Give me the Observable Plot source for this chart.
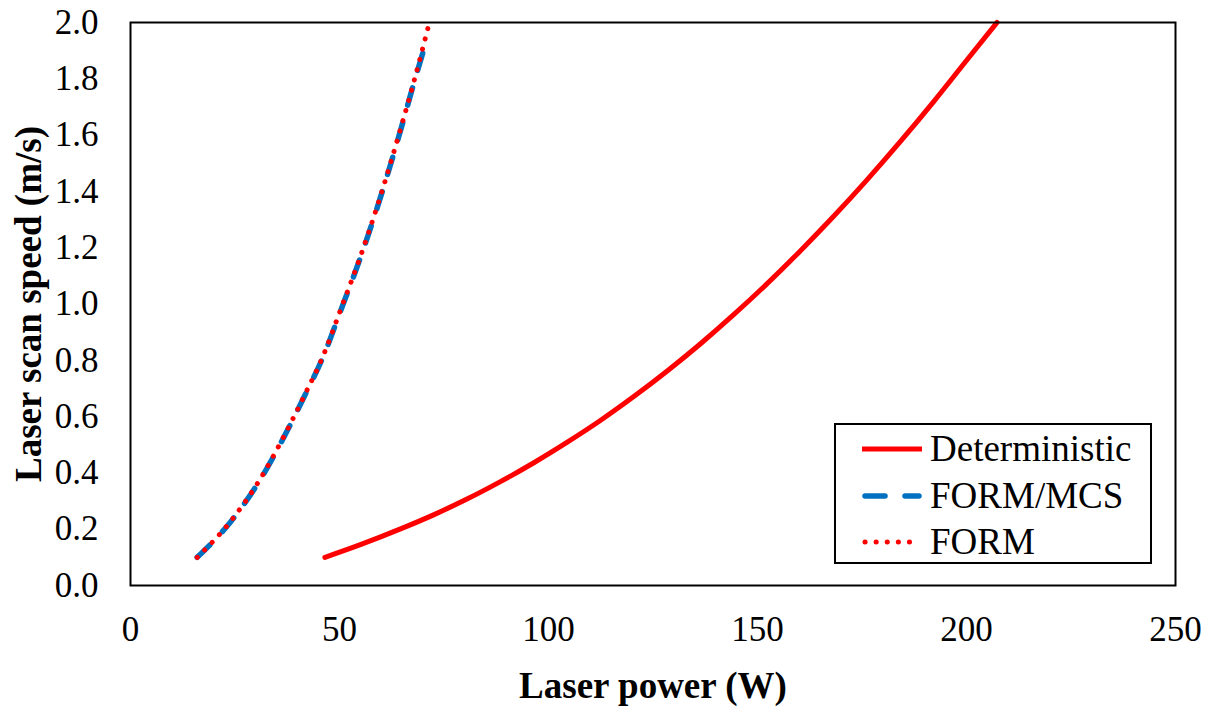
<!DOCTYPE html>
<html>
<head>
<meta charset="utf-8">
<script src="https://cdn.jsdelivr.net/npm/d3@7"></script>
<script src="https://cdn.jsdelivr.net/npm/@observablehq/plot@0.6"></script>
<style>
  html, body { margin: 0; padding: 0; background: #fff; }
  #wrap { position: relative; width: 1214px; height: 708px; font-family: "Liberation Serif", "Times New Roman", serif; }
  #legend { position: absolute; left: 834px; top: 423px; width: 314px; height: 137px; border: 2px solid #000; background: #fff; }
  .row { position: absolute; left: 0; height: 46px; display: flex; align-items: center; }
  .row svg { margin-left: 26px; }
  .row span { margin-left: 8px; font-size: 37px; color: #000; line-height: 46px; }
</style>
</head>
<body>
<div id="wrap"></div>
<script>
// ---- data ----
const xTicks = [0, 50, 100, 150, 200, 250];
const yTicks = [0.0, 0.2, 0.4, 0.6, 0.8, 1.0, 1.2, 1.4, 1.6, 1.8, 2.0];

const detPower = [46.5, 55, 64.6, 72.5, 80.5, 88.5, 96.5, 104.5, 112.4, 120.4, 128.4, 136.3, 144.3, 152, 160, 168, 176.2, 184, 192.2, 200, 207.3];
const detSpeed = [0.100, 0.145, 0.201, 0.251, 0.307, 0.369, 0.436, 0.509, 0.586, 0.671, 0.762, 0.858, 0.962, 1.068, 1.185, 1.308, 1.441, 1.574, 1.720, 1.865, 2.000];

const mcsPower = [15.95, 24.0, 31.2, 36.8, 41.6, 46.3, 50.3, 55.1, 59.1, 62.3, 64.7, 67.9, 70.7];
const mcsSpeed = [0.100, 0.227, 0.380, 0.530, 0.672, 0.820, 0.977, 1.169, 1.346, 1.500, 1.622, 1.790, 1.930];

const formPower = [15.95, 23.9, 31.1, 36.7, 41.5, 46.2, 50.2, 55.0, 59.0, 62.2, 64.6, 67.8, 71.5];
const formSpeed = [0.100, 0.227, 0.380, 0.530, 0.672, 0.820, 0.977, 1.169, 1.346, 1.500, 1.622, 1.790, 2.000];

const seriesNames = ["Deterministic", "FORM/MCS", "FORM"];
const xLabel = "Laser power (W)";
const yLabel = "Laser scan speed (m/s)";

const toRows = (xs, ys) => xs.map((x, i) => ({x, y: ys[i]}));
const det = toRows(detPower, detSpeed);
const mcs = toRows(mcsPower, mcsSpeed);
const form = toRows(formPower, formSpeed);

const RED = "#ff0000", BLUE = "#0070c0";

const chart = Plot.plot({
  width: 1214,
  height: 708,
  marginLeft: 130,
  marginRight: 39,
  marginTop: 22,
  marginBottom: 123,
  style: { fontFamily: "'Liberation Serif', 'Times New Roman', serif", fontSize: "35px", background: "#fff", overflow: "visible" },
  x: { domain: [0, 250], label: null },
  y: { domain: [0, 2], label: null },
  marks: [
    Plot.axisX({ ticks: xTicks, tickSize: 0, tickPadding: 31, tickFormat: d3.format("d"), label: null, fontSize: 35 }),
    Plot.axisY({ ticks: yTicks, tickSize: 0, tickPadding: 32, tickFormat: d3.format(".1f"), label: null, fontSize: 35 }),
    Plot.line(det, { x: "x", y: "y", stroke: RED, strokeWidth: 5, curve: "monotone-x" }),
    Plot.line(mcs, { x: "x", y: "y", stroke: BLUE, strokeWidth: 5.5, strokeDasharray: "18,18", curve: "monotone-x" }),
    Plot.line(form, { x: "x", y: "y", stroke: RED, strokeWidth: 5, strokeLinecap: "round", strokeDasharray: "0.1,10.5", curve: "monotone-x" }),
    Plot.frame({ stroke: "#000", strokeWidth: 2 }),
    Plot.text([xLabel], { text: d => d, frameAnchor: "bottom", dy: 86, lineAnchor: "top", textAnchor: "middle", fontWeight: "bold", fontSize: 37, fill: "#000" }),
    Plot.text([yLabel], { text: d => d, frameAnchor: "left", dx: -116, rotate: -90, lineAnchor: "top", textAnchor: "middle", fontWeight: "bold", fontSize: 37, fill: "#000" })
  ]
});

const wrap = document.getElementById("wrap");
wrap.appendChild(chart);

// legend
const legend = document.createElement("div");
legend.id = "legend";
const styles = [
  { stroke: RED, width: 5, dash: null, cap: "butt" },
  { stroke: BLUE, width: 5.5, dash: "20,20", cap: "round" },
  { stroke: RED, width: 5, dash: "0.1,11", cap: "round" }
];
seriesNames.forEach((name, i) => {
  const row = document.createElement("div");
  row.className = "row";
  row.style.top = (i * 46.5 + 1) + "px";
  const s = styles[i];
  row.innerHTML = `<svg width="60" height="20"><line x1="${s.cap === 'round' ? 3 : 0}" y1="10" x2="${s.cap === 'round' ? 57 : 60}" y2="10" stroke="${s.stroke}" stroke-width="${s.width}" stroke-linecap="${s.cap}" ${s.dash ? `stroke-dasharray="${s.dash}"` : ""}/></svg><span>${name}</span>`;
  legend.appendChild(row);
});
wrap.appendChild(legend);
</script>
</body>
</html>
